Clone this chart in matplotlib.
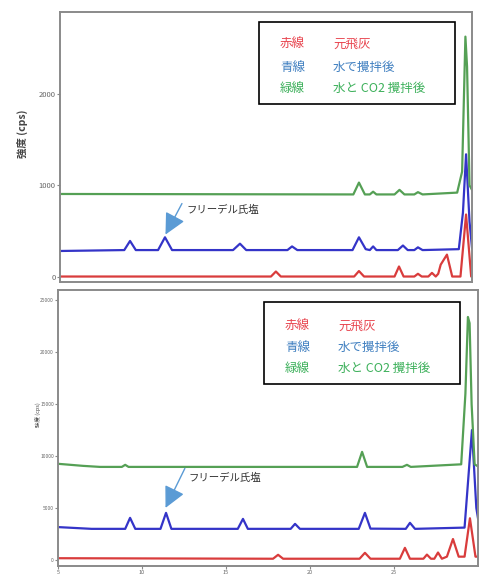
import matplotlib
matplotlib.use("Agg")
import matplotlib.pyplot as plt
from matplotlib.patches import Rectangle

plt.rcParams['font.family'] = ['Noto Sans CJK JP', 'DejaVu Sans']

# --- data (2theta in degrees, intensity in cps) ---
# top panel
top_blue_x = [5.0, 8.9, 9.25, 9.6, 10.95, 11.37, 11.8, 15.5, 15.92, 16.3, 18.8, 19.08, 19.4,
              22.75, 23.14, 23.55, 23.8, 24.0, 24.2, 25.5, 25.81, 26.1, 26.5, 26.72, 27.0,
              29.2, 29.45, 29.64, 29.85, 30.0]
top_blue_y = [280, 290, 390, 290, 290, 430, 290, 290, 360, 290, 290, 330, 290,
              290, 430, 300, 290, 330, 290, 290, 340, 290, 290, 320, 290,
              300, 700, 1340, 600, 315]
top_green_x = [5.0, 22.8, 23.14, 23.5, 23.8, 24.0, 24.2, 25.3, 25.6, 25.9, 26.5, 26.72, 27.0,
               29.1, 29.4, 29.6, 29.7, 29.85, 30.0]
top_green_y = [905, 900, 1030, 900, 900, 930, 900, 900, 950, 900, 900, 925, 900,
               920, 1150, 2630, 2300, 1000, 950]
top_red_x = [5.0, 17.8, 18.1, 18.4, 22.85, 23.14, 23.45, 25.3, 25.57, 25.85, 26.5, 26.72, 26.95,
             27.35, 27.57, 27.8, 27.95, 28.1, 28.48, 28.8, 29.3, 29.64, 29.95, 30.0]
top_red_y = [0, 0, 55, 0, 0, 60, 0, 0, 110, 0, 0, 30, 0,
             0, 40, 0, 30, 130, 240, 0, 0, 680, 0, 0]

# bottom panel
bot_blue_x = [5.0, 7.0, 9.0, 9.29, 9.6, 11.1, 11.43, 11.75, 15.7, 16.01, 16.3, 18.85, 19.11, 19.4,
              22.9, 23.27, 23.6, 25.7, 25.95, 26.25, 29.2, 29.64, 29.9, 30.0]
bot_blue_y = [3150, 2980, 2980, 4040, 2980, 2980, 4520, 2980, 2980, 3940, 2980, 2980, 3460, 2980,
              2980, 4520, 3000, 2980, 3560, 2980, 3100, 12500, 5000, 4000]
bot_green_x = [5.0, 6.5, 7.5, 8.8, 9.0, 9.2, 22.8, 23.1, 23.4, 25.5, 25.77, 26.0,
               29.0, 29.25, 29.4, 29.5, 29.62, 29.8, 30.0]
bot_green_y = [9250, 9050, 8950, 8950, 9150, 8950, 8950, 10400, 8950, 8950, 9150, 8950,
               9200, 16000, 23400, 22800, 15000, 9200, 9000]
bot_red_x = [5.0, 17.8, 18.1, 18.4, 22.95, 23.27, 23.6, 25.35, 25.65, 25.95, 26.75, 26.96, 27.2,
             27.4, 27.62, 27.85, 28.15, 28.51, 28.85, 29.2, 29.52, 29.85, 30.0]
bot_red_y = [150, 100, 480, 100, 100, 670, 100, 100, 1150, 100, 100, 500, 100,
             100, 700, 100, 300, 2000, 300, 300, 4000, 300, 300]

legend_keys = ['赤線', '青線', '緑線']
legend_names = ['元飛灰', '水で攪拌後', '水と CO2 攪拌後']
legend_colors = ['#e8454f', '#3f7fc0', '#3cb05a']
note = 'フリーデル氏塩'

W, H = 481, 574
fig = plt.figure(figsize=(W / 100, H / 100), dpi=100)


def fx(px):
    return px / W


def fy(py):
    return 1 - py / H


def panel(rect, ylim, yticks, yticklabels, tick_fs, series, ylabel, ylab_fs, ylab_x, ylab_w, show_x):
    ax = fig.add_axes(rect)
    for xs, ys, c in series:
        ax.plot(xs, ys, color=c, lw=1.6, solid_joinstyle='round')
    ax.set_xlim(5, 30)
    ax.set_ylim(*ylim)
    ax.set_yticks(yticks)
    ax.set_yticklabels(yticklabels, fontsize=tick_fs, color='#666666')
    if show_x:
        ax.set_xticks([5, 10, 15, 20, 25])
        ax.set_xticklabels(['5', '10', '15', '20', '25'], fontsize=4, color='#666666')
        ax.tick_params(axis='x', length=2, pad=1, color='#888888')
    else:
        ax.set_xticks([])
    ax.tick_params(axis='y', length=2, pad=1, color='#888888')
    for s in ax.spines.values():
        s.set_color('#8a8a8a')
        s.set_linewidth(1.4)
    fig.text(ylab_x, rect[1] + rect[3] * 0.55, ylabel, rotation=90, fontsize=ylab_fs,
             color='#444444', ha='center', va='center', fontweight=ylab_w)
    return ax


series_colors = ['#d93c3c', '#3434c8', '#55a055']

ax1 = panel([fx(60), fy(282), fx(472) - fx(60), fy(12) - fy(282)], (-60, 2900),
            [0, 1000, 2000], ['0', '1000', '2000'], 5.5,
            [(top_red_x, top_red_y, series_colors[0]),
             (top_blue_x, top_blue_y, series_colors[1]),
             (top_green_x, top_green_y, series_colors[2])],
            '強度 (cps)', 7.5, fx(22), 'bold', False)

ax2 = panel([fx(58), fy(566), fx(478) - fx(58), fy(290) - fy(566)], (-600, 26000),
            [0, 5000, 10000, 15000, 20000, 25000],
            ['0', '5000', '10000', '15000', '20000', '25000'], 3.5,
            [(bot_red_x, bot_red_y, series_colors[0]),
             (bot_blue_x, bot_blue_y, series_colors[1]),
             (bot_green_x, bot_green_y, series_colors[2])],
            '強度 (cps)', 4, fx(38), 'normal', True)

# legend boxes
for (x0, y0, x1, y1), rows_y, c1, c2 in [((259, 22, 455, 104), (44, 67, 88), 280, 333),
                                         ((264, 302, 460, 384), (326, 347, 368), 285, 338)]:
    fig.add_artist(Rectangle((fx(x0), fy(y1)), fx(x1) - fx(x0), fy(y0) - fy(y1),
                             transform=fig.transFigure, fill=True, facecolor='white',
                             edgecolor='black', lw=1.2))
    for ry, k, n, c in zip(rows_y, legend_keys, legend_names, legend_colors):
        fig.text(fx(c1), fy(ry), k, color=c, fontsize=9, va='center', ha='left')
        fig.text(fx(c2), fy(ry), n, color=c, fontsize=9, va='center', ha='left')

# Friedel's salt arrows
for ax, tip, tail, txt in [(ax1, (11.4, 460), (12.4, 800), (12.7, 730)),
                           (ax2, (11.4, 5000), (12.55, 8800), (12.75, 7900))]:
    ax.annotate('', xy=tip, xytext=tail,
                arrowprops=dict(arrowstyle='-|>,head_length=1.3,head_width=0.65',
                                color='#5b9bd5', lw=1.0, shrinkA=0, shrinkB=0))
    ax.text(txt[0], txt[1], note, fontsize=7.5, color='#333333', va='center', ha='left')

fig.savefig('out.png', dpi=100, facecolor='white')
